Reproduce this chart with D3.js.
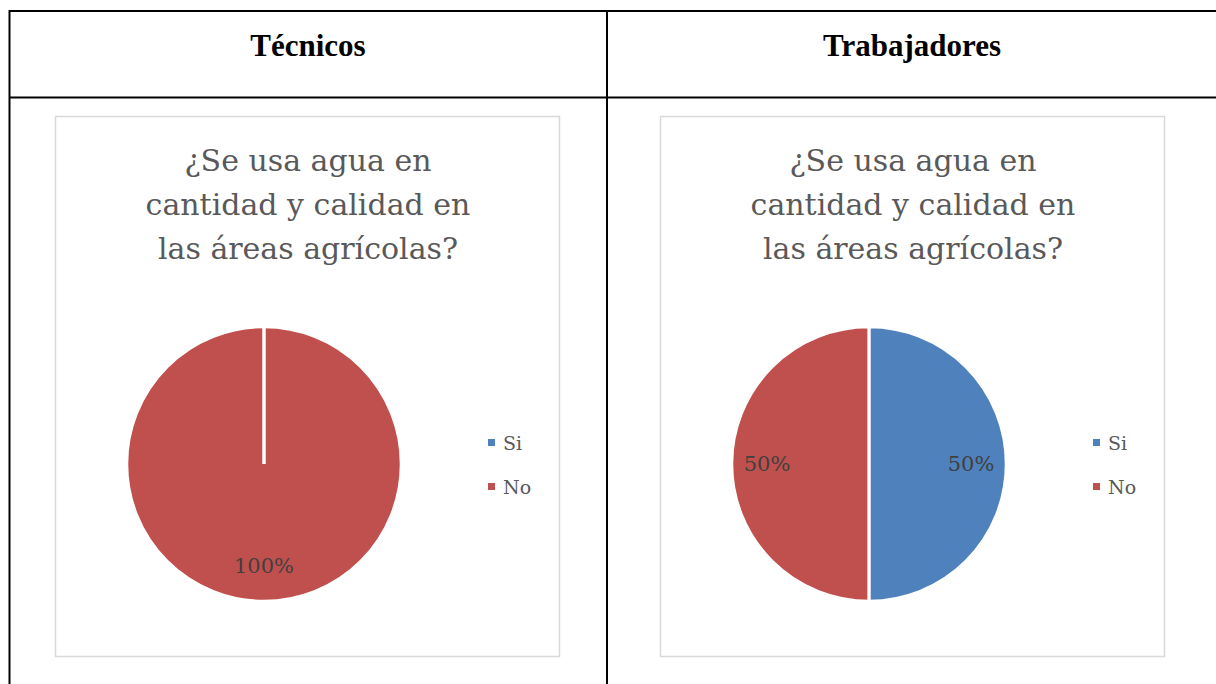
<!DOCTYPE html>
<html>
<head>
<meta charset="utf-8">
<script src="https://cdn.jsdelivr.net/npm/d3@7"></script>
<style>
  body { margin: 0; background: #fff; }
</style>
</head>
<body>
<div id="chart"></div>
<script>
// data
var panelNames = ["Técnicos", "Trabajadores"];
var categories = ["Si", "No"];
var tecnicosValues = [0, 100];
var trabajadoresValues = [50, 50];
var titleLines = ["¿Se usa agua en", "cantidad y calidad en", "las áreas agrícolas?"];

var colors = d3.scaleOrdinal().domain(categories).range(["#4F81BD", "#C0504D"]);

var W = 1216, H = 684;
var svg = d3.select("#chart").append("svg")
    .attr("width", W)
    .attr("height", H);

// table grid
var grid = svg.append("g").attr("stroke", "#000").attr("stroke-width", 2);
grid.append("line").attr("x1", 9).attr("x2", W).attr("y1", 11).attr("y2", 11);
grid.append("line").attr("x1", 9).attr("x2", W).attr("y1", 97.5).attr("y2", 97.5);
grid.append("line").attr("x1", 9.5).attr("x2", 9.5).attr("y1", 10).attr("y2", H);
grid.append("line").attr("x1", 607).attr("x2", 607).attr("y1", 10).attr("y2", H);

var panelX = [55, 660];
var headerX = [308, 912];

var panels = [tecnicosValues, trabajadoresValues];

panels.forEach(function (values, p) {
    // header
    svg.append("text")
        .attr("x", headerX[p])
        .attr("y", 56)
        .attr("text-anchor", "middle")
        .attr("font-family", "Liberation Serif")
        .attr("font-weight", "bold")
        .attr("font-size", 31)
        .text(panelNames[p]);

    var g = svg.append("g").attr("transform", "translate(" + panelX[p] + ",116)");

    // chart box
    g.append("rect")
        .attr("x", 0.5).attr("y", 0.5)
        .attr("width", 504).attr("height", 540)
        .attr("fill", "#fff")
        .attr("stroke", "#d9d9d9")
        .attr("stroke-width", 1.5);

    // title
    g.append("text")
        .attr("x", 253)
        .attr("text-anchor", "middle")
        .attr("font-family", "DejaVu Serif")
        .attr("font-size", 30)
        .attr("fill", "#595959")
        .selectAll("tspan")
        .data(titleLines)
        .enter()
        .append("tspan")
        .attr("x", 253)
        .attr("y", function (d, i) { return 55 + i * 44; })
        .text(function (d) { return d; });

    // pie
    var r = 137;
    var pie = d3.pie().sort(null).value(function (d) { return d; });
    var arc = d3.arc().innerRadius(0).outerRadius(r);
    var labelArc = d3.arc().innerRadius(102).outerRadius(102);
    var pg = g.append("g").attr("transform", "translate(209,348)");
    var arcs = pie(values);

    pg.selectAll("path")
        .data(arcs)
        .enter()
        .append("path")
        .attr("d", arc)
        .attr("fill", function (d, i) { return colors(categories[i]); })
        .attr("stroke", "#fff")
        .attr("stroke-width", 2.5);

    // white separators on slice edges (also shows the empty "Si" slice)
    pg.selectAll("line.sep")
        .data(arcs)
        .enter()
        .append("line")
        .attr("class", "sep")
        .attr("x1", 0).attr("y1", 0)
        .attr("x2", function (d) { return Math.sin(d.startAngle) * (r + 1); })
        .attr("y2", function (d) { return -Math.cos(d.startAngle) * (r + 1); })
        .attr("stroke", "#fff")
        .attr("stroke-width", 3);

    pg.selectAll("text")
        .data(arcs.filter(function (d) { return d.value > 0; }))
        .enter()
        .append("text")
        .attr("transform", function (d) { return "translate(" + labelArc.centroid(d) + ")"; })
        .attr("dy", "0.35em")
        .attr("text-anchor", "middle")
        .attr("font-family", "DejaVu Serif")
        .attr("font-size", 21)
        .attr("fill", "#404040")
        .text(function (d) { return d.value + "%"; });

    // legend
    var lg = g.append("g").attr("transform", "translate(433,327)");
    var items = lg.selectAll("g")
        .data(categories)
        .enter()
        .append("g")
        .attr("transform", function (d, i) { return "translate(0," + (i * 44) + ")"; });
    items.append("rect")
        .attr("x", 0).attr("y", -4)
        .attr("width", 7).attr("height", 7)
        .attr("fill", function (d) { return colors(d); });
    items.append("text")
        .attr("x", 15)
        .attr("dy", "0.35em")
        .attr("font-family", "DejaVu Serif")
        .attr("font-size", 19)
        .attr("fill", "#595959")
        .text(function (d) { return d; });
});
</script>
</body>
</html>
